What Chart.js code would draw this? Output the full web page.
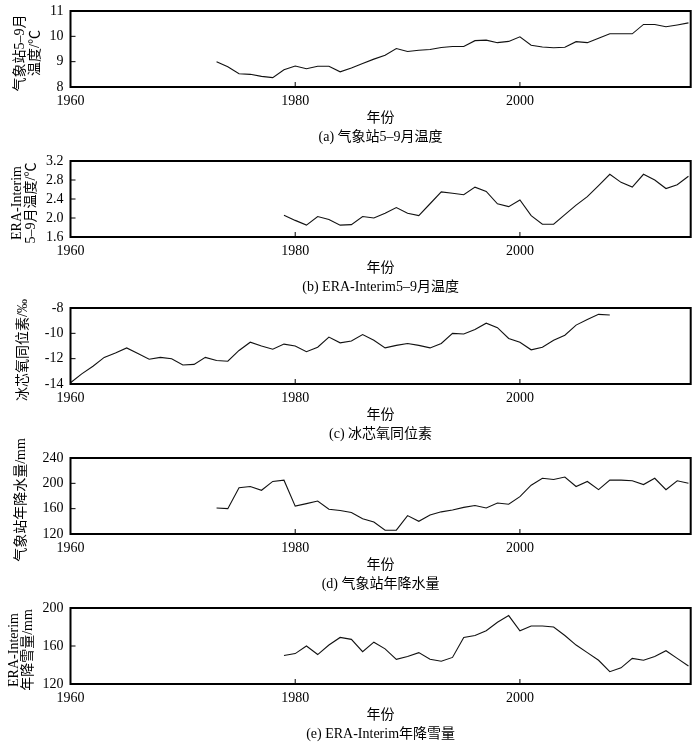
<!DOCTYPE html>
<html lang="zh">
<head>
    <meta charset="UTF-8">
    <title>气象站与冰芯序列</title>
    <script src="https://cdn.jsdelivr.net/npm/chart.js@4.4.1/dist/chart.umd.min.js"></script>
    <style>
        body {
            margin: 0;
            background: #fff;
            width: 700px;
            height: 746px;
            position: relative;
            overflow: hidden;
        }
        .panel {
            position: absolute;
            left: 0;
            width: 700px;
            height: 156px;
        }
    </style>
</head>
<body>
    <div class="panel" style="top:-9px"><canvas id="chart-a" width="700" height="156"></canvas></div>
    <div class="panel" style="top:141px"><canvas id="chart-b" width="700" height="156"></canvas></div>
    <div class="panel" style="top:288px"><canvas id="chart-c" width="700" height="156"></canvas></div>
    <div class="panel" style="top:438px"><canvas id="chart-d" width="700" height="156"></canvas></div>
    <div class="panel" style="top:588px"><canvas id="chart-e" width="700" height="156"></canvas></div>
    <script>
        // x axis (years)
        const xTicks = [1960, 1980, 2000];

        // (a) station May-Sep temperature, 1973-2015
        const startA = 1973;
        const stationTemp = [9.0, 8.8, 8.52, 8.5, 8.42, 8.37, 8.68, 8.83, 8.72, 8.82,
            8.82, 8.6, 8.75, 8.93, 9.1, 9.25, 9.52, 9.4, 9.45, 9.48,
            9.56, 9.6, 9.6, 9.83, 9.85, 9.75, 9.8, 9.98, 9.65, 9.58,
            9.55, 9.57, 9.79, 9.75, 9.92, 10.1, 10.1, 10.1, 10.47, 10.47,
            10.38, 10.45, 10.53];
        const yTicksA = [8, 9, 10, 11];

        // (b) ERA-Interim May-Sep temperature, 1979-2015
        const startB = 1979;
        const eraTemp = [2.06, 1.95, 1.85, 2.03, 1.97, 1.85, 1.86, 2.03, 2.0, 2.1,
            2.22, 2.1, 2.05, 2.3, 2.55, 2.52, 2.49, 2.65, 2.56, 2.3,
            2.24, 2.38, 2.05, 1.87, 1.87, 2.07, 2.27, 2.45, 2.68, 2.92,
            2.75, 2.65, 2.92, 2.8, 2.62, 2.7, 2.88];
        const yTicksB = [1.6, 2.0, 2.4, 2.8, 3.2];

        // (c) ice core oxygen isotope, 1960-2008
        const startC = 1960;
        const iceO18 = [-13.9, -13.2, -12.6, -11.9, -11.55, -11.15, -11.6, -12.05, -11.9, -12.0,
            -12.5, -12.45, -11.9, -12.15, -12.2, -11.35, -10.7, -11.0, -11.25, -10.85,
            -11.0, -11.45, -11.1, -10.3, -10.75, -10.6, -10.1, -10.55, -11.15, -10.95,
            -10.8, -10.95, -11.15, -10.8, -10.0, -10.05, -9.7, -9.2, -9.55, -10.4,
            -10.7, -11.3, -11.1, -10.55, -10.15, -9.35, -8.9, -8.5, -8.55];
        const yTicksC = [-14, -12, -10, -8];

        // (d) station annual precipitation, 1973-2015
        const startD = 1973;
        const stationPrecip = [161, 160, 193, 195, 189, 203, 205, 164, 168, 172,
            159, 157, 154, 144, 139, 126, 126, 149, 140, 150,
            155, 158, 162, 165, 161, 169, 167, 179, 197, 208,
            206, 210, 195, 203, 190, 205, 205, 204, 198, 208,
            190, 204, 200];
        const yTicksD = [120, 160, 200, 240];

        // (e) ERA-Interim annual snowfall, 1979-2015
        const startE = 1979;
        const eraSnow = [150, 152, 160, 151, 161, 169, 167, 154, 164, 157,
            146, 149, 153, 146, 144, 148, 169, 171, 176, 185,
            192, 176, 181, 181, 180, 171, 161, 153, 145, 133,
            137, 147, 145, 149, 155, 147, 139];
        const yTicksE = [120, 160, 200];

        const serif = "'Liberation Serif', 'Noto Sans CJK SC', serif";
        Chart.defaults.font.family = serif;
        Chart.defaults.color = '#000';

        // box around the plot + inward tick marks
        const frame = {
            id: 'frame',
            afterDatasetsDraw(chart) {
                const { ctx, chartArea: a, scales } = chart;
                ctx.save();
                ctx.strokeStyle = '#000';
                ctx.lineWidth = 1;
                ctx.beginPath();
                scales.y.ticks.forEach(t => {
                    const py = scales.y.getPixelForValue(t.value);
                    ctx.moveTo(a.left, py);
                    ctx.lineTo(a.left + 5, py);
                });
                scales.x.ticks.forEach(t => {
                    const px = scales.x.getPixelForValue(t.value);
                    ctx.moveTo(px, a.bottom);
                    ctx.lineTo(px, a.bottom - 5);
                });
                ctx.stroke();
                ctx.lineWidth = 2;
                ctx.strokeRect(a.left, a.top, a.right - a.left, a.bottom - a.top);
                ctx.restore();
            }
        };

        // rotated y-axis title, not squeezed to the plot height
        const yTitle = {
            id: 'yTitle',
            afterDraw(chart, args, opts) {
                const { ctx, chartArea: a } = chart;
                const cy = (a.top + a.bottom) / 2 + 4;
                ctx.save();
                ctx.fillStyle = '#000';
                ctx.font = '14px ' + serif;
                ctx.textAlign = 'center';
                ctx.textBaseline = 'middle';
                opts.lines.forEach((line, i) => {
                    ctx.save();
                    ctx.translate(opts.xs[i], cy);
                    ctx.rotate(-Math.PI / 2);
                    ctx.fillText(line, 0, 0);
                    ctx.restore();
                });
                ctx.restore();
            }
        };

        function makePanel(id, start, values, yTicks, decimals, titleLines, titleXs, caption) {
            new Chart(document.getElementById(id), {
                type: 'line',
                data: {
                    datasets: [{
                        data: values.map((v, i) => ({ x: start + i, y: v })),
                        borderColor: '#111',
                        borderWidth: 1.1,
                        pointRadius: 0,
                        tension: 0,
                        fill: false
                    }]
                },
                options: {
                    responsive: false,
                    animation: false,
                    layout: { padding: { top: 20, left: 0.5, right: 9.3, bottom: 0 } },
                    plugins: {
                        legend: { display: false },
                        tooltip: { enabled: false },
                        yTitle: { lines: titleLines, xs: titleXs }
                    },
                    scales: {
                        x: {
                            type: 'linear',
                            min: 1960,
                            max: 2015.2,
                            grid: { display: false, drawTicks: false },
                            border: { display: false },
                            afterBuildTicks: s => { s.ticks = xTicks.map(v => ({ value: v })); },
                            afterFit: s => { s.height = 60; },
                            ticks: {
                                padding: 6,
                                maxRotation: 0,
                                autoSkip: false,
                                font: { size: 14 },
                                callback: v => String(v)
                            },
                            title: {
                                display: true,
                                text: ['年份', caption],
                                font: { size: 14, lineHeight: '19px' },
                                padding: { top: 0, bottom: 0 }
                            }
                        },
                        y: {
                            min: yTicks[0],
                            max: yTicks[yTicks.length - 1],
                            grid: { display: false, drawTicks: false },
                            border: { display: false },
                            afterBuildTicks: s => { s.ticks = yTicks.map(v => ({ value: v })); },
                            afterFit: s => { s.width = 70; },
                            ticks: {
                                padding: 7,
                                autoSkip: false,
                                font: { size: 14 },
                                callback: v => v.toFixed(decimals)
                            }
                        }
                    }
                },
                plugins: [frame, yTitle]
            });
        }

        makePanel('chart-a', startA, stationTemp, yTicksA, 0, ['气象站5–9月', '温度/℃'], [20, 35], '(a) 气象站5–9月温度');
        makePanel('chart-b', startB, eraTemp, yTicksB, 1, ['ERA-Interim', '5–9月温度/℃'], [17, 31], '(b) ERA-Interim5–9月温度');
        makePanel('chart-c', startC, iceO18, yTicksC, 0, ['冰芯氧同位素/‰'], [23], '(c) 冰芯氧同位素');
        makePanel('chart-d', startD, stationPrecip, yTicksD, 0, ['气象站年降水量/mm'], [21], '(d) 气象站年降水量');
        makePanel('chart-e', startE, eraSnow, yTicksE, 0, ['ERA-Interim', '年降雪量/mm'], [14, 28], '(e) ERA-Interim年降雪量');
    </script>
</body>
</html>
